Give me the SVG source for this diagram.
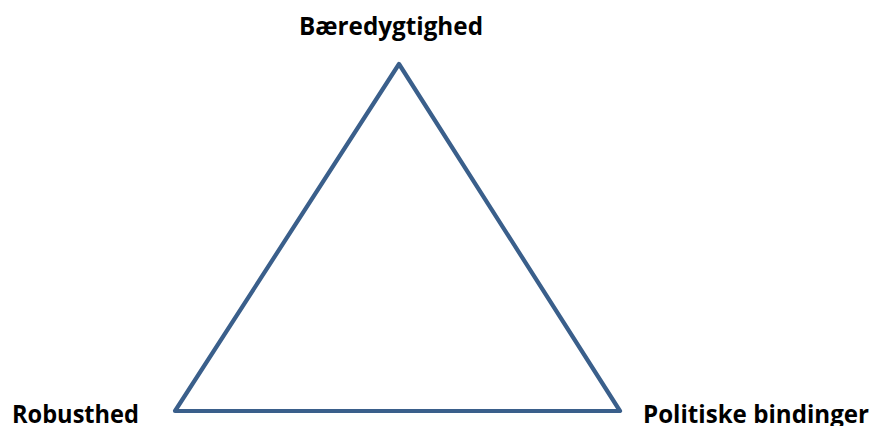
<svg xmlns="http://www.w3.org/2000/svg" width="870" height="426" viewBox="0 0 870 426">
<style>
.lbl{font-family:"Open Sans","Liberation Sans",sans-serif;font-weight:bold;font-size:25px;fill:#000}
.edge{fill:none;stroke:#3A5F8B;stroke-width:4.2;stroke-linejoin:round}
</style>
<rect width="870" height="426" fill="#fff"/>
<g id="connectors">
<polygon class="edge" points="399,64 620,411 175,411"/>
</g>
<g id="node-baeredygtighed"><text class="lbl" x="299" y="35" textLength="184" lengthAdjust="spacingAndGlyphs">Bæredygtighed</text></g>
<g id="node-robusthed"><text class="lbl" x="12" y="423" textLength="127" lengthAdjust="spacingAndGlyphs">Robusthed</text></g>
<g id="node-politiske"><text class="lbl" x="643" y="423" textLength="226" lengthAdjust="spacingAndGlyphs">Politiske bindinger</text></g>
</svg>
